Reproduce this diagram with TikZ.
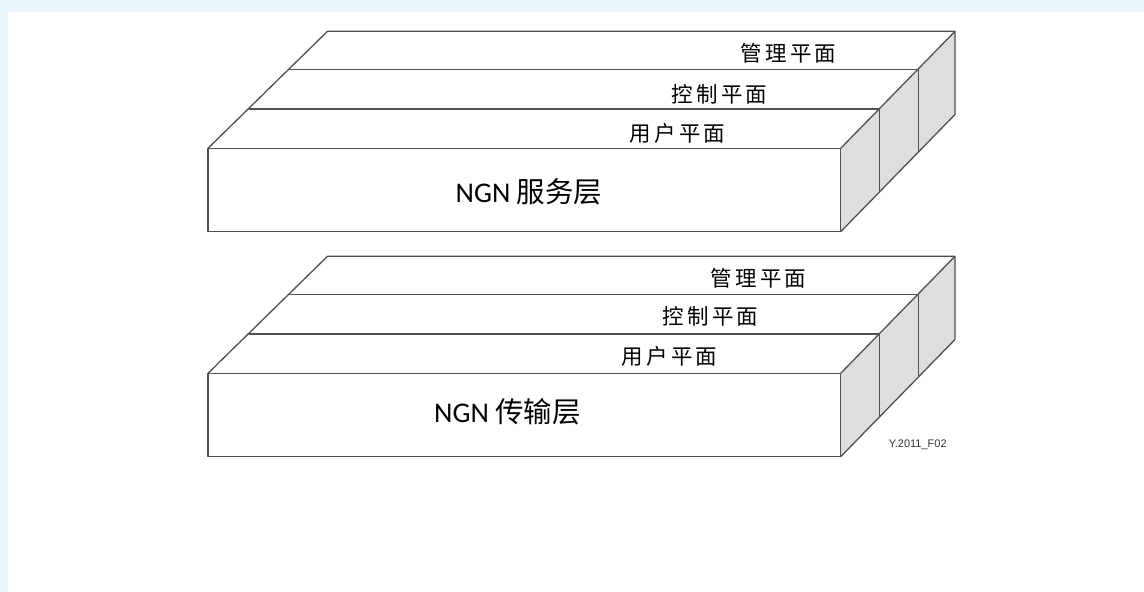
\documentclass[tikz,border=0pt]{standalone}
\usepackage{fontspec}
\setmainfont{Carlito}
\newfontfamily\cjk{Noto Sans CJK SC}
\newfontfamily\cjkplane[LetterSpace=15]{Noto Sans CJK SC}
\newfontfamily\figfont{Liberation Sans}
\definecolor{bgblue}{HTML}{E8F6FC}
\definecolor{edge}{HTML}{505050}
\definecolor{sideface}{HTML}{DEDEDE}
\begin{document}
\begin{tikzpicture}[x=1pt,y=-1pt,
  edgeline/.style={draw=edge,line width=1.3pt,line join=round},
  planelabel/.style={inner sep=0pt,font=\cjkplane\fontsize{21.5}{21.5}\selectfont,text=black},
  layerlabel/.style={inner sep=0pt,font=\fontsize{28.5}{28.5}\selectfont,text=black},
  figid/.style={inner sep=0pt,font=\figfont\fontsize{11}{11}\selectfont,text=black!80}]
\useasboundingbox (0,0) rectangle (1144,592);
\fill[bgblue] (0,0) rectangle (1144,592);
\fill[white] (8,12) rectangle (1144,592);

\foreach \dy/\nm in {0/s, 225/t}{
  \begin{scope}[yshift=-\dy pt]
    \coordinate (\nm L0) at (208,148.3);
    \coordinate (\nm L1) at (249,109);
    \coordinate (\nm L2) at (288.5,69.5);
    \coordinate (\nm L3) at (327.5,31.3);
    \coordinate (\nm R0) at (840.7,148.3);
    \coordinate (\nm R1) at (879.5,109);
    \coordinate (\nm R2) at (918.8,69.5);
    \coordinate (\nm R3) at (955,31.3);
    \coordinate (\nm B0) at (840.7,231.7);
    \coordinate (\nm B1) at (879.5,191.6);
    \coordinate (\nm B2) at (918.8,151.5);
    \coordinate (\nm B3) at (955,114.5);
    \fill[sideface] (\nm R0) -- (\nm R3) -- (\nm B3) -- (\nm B0) -- cycle;
    \draw[edgeline] (\nm L0) rectangle (\nm B0);
    \draw[edgeline] (\nm L0) -- (\nm L3) -- (\nm R3) -- (\nm B3) -- (\nm B0);
    \draw[edgeline] (\nm R0) -- (\nm R3);
    \draw[edgeline] (\nm L1) -- (\nm R1) -- (\nm B1);
    \draw[edgeline] (\nm L2) -- (\nm R2) -- (\nm B2);
  \end{scope}
}

\node[planelabel] (sMgmt) at (788.5,53) {管理平面};
\node[planelabel] (sCtrl) at (719.5,94) {控制平面};
\node[planelabel] (sUser) at (677.5,133.3) {用户平面};
\node[layerlabel] (sLayer) at (529,191.7) {NGN {\cjk 服务层}};

\node[planelabel] (tMgmt) at (758.5,278.3) {管理平面};
\node[planelabel] (tCtrl) at (710.5,316.7) {控制平面};
\node[planelabel] (tUser) at (669.5,356) {用户平面};
\node[layerlabel] (tLayer) at (507.5,411.7) {NGN {\cjk 传输层}};

\node[figid] (fig) at (917.8,444.3) {Y.2011\_F02};
\end{tikzpicture}
\end{document}
